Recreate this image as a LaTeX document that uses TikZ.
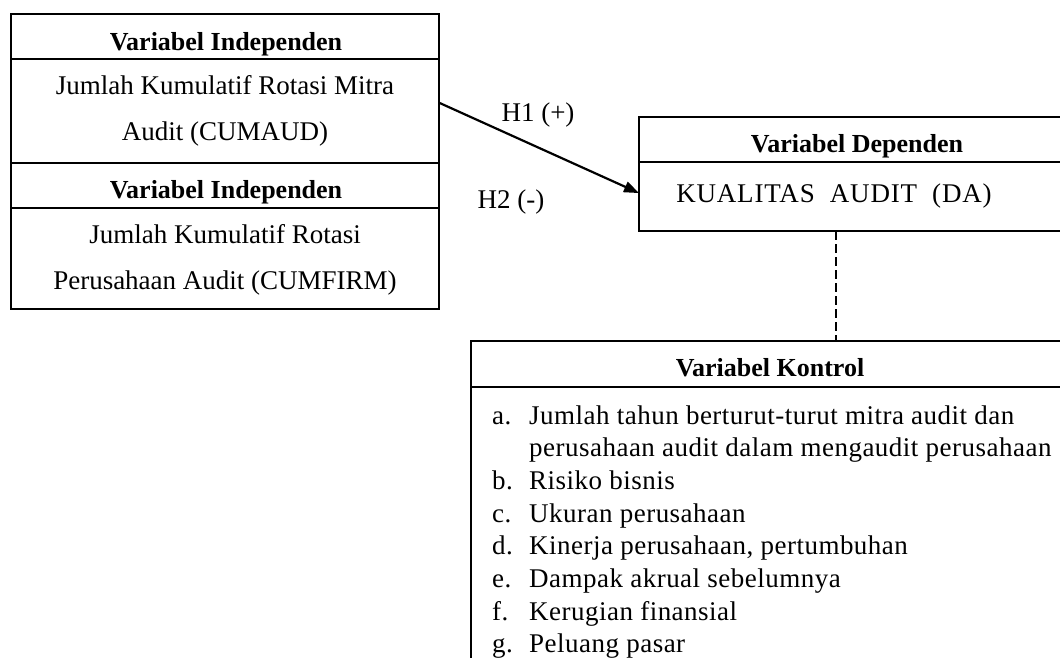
\documentclass[tikz,border=0pt]{standalone}
\usepackage{fontspec}
\setmainfont{Liberation Serif}
\newfontfamily\wideserif[LetterSpace=1.8]{Liberation Serif}
\newfontfamily\widerserif[LetterSpace=3.0]{Liberation Serif}
\usetikzlibrary{arrows.meta,calc}
\begin{document}
\begin{tikzpicture}[x=1pt,y=-1pt,
  box/.style={draw,line width=2pt,rectangle,anchor=north west,inner sep=0pt,outer sep=0pt},
  ttl/.style={anchor=base,inner sep=0pt,font=\fontsize{26}{30}\selectfont\bfseries},
  txt/.style={anchor=base,inner sep=0pt,font=\fontsize{27}{32}\selectfont},
  lbl/.style={anchor=base west,inner sep=0pt,font=\wideserif\fontsize{27}{32}\selectfont},
  arr/.style={line width=2.2pt,-{Triangle[length=15pt,width=11pt]}},
  dsh/.style={line width=2pt,dash pattern=on 9pt off 4pt}]
\useasboundingbox (0,0) rectangle (1060,657);
\clip (0,0) rectangle (1060,657);
% left boxes
\node[box,minimum width=428pt,minimum height=45pt] (h1) at (11,14) {};
\node[box,minimum width=428pt,minimum height=104pt] (b1) at (11,59) {};
\node[box,minimum width=428pt,minimum height=45pt] (h2) at (11,163) {};
\node[box,minimum width=428pt,minimum height=101pt] (b2) at (11,208) {};
\node[ttl] (t1) at (226,50) {Variabel Independen};
\node[txt] (t1a) at (225,94) {Jumlah Kumulatif Rotasi Mitra};
\node[txt] (t1b) at (225,140) {Audit (CUMAUD)};
\node[ttl] (t2) at (226,198) {Variabel Independen};
\node[txt] (t2a) at (225,243) {Jumlah Kumulatif Rotasi};
\node[txt] (t2b) at (225,289) {Perusahaan Audit (CUMFIRM)};
% dependent box
\node[box,minimum width=436pt,minimum height=45pt] (dh) at (639,117) {};
\node[box,minimum width=436pt,minimum height=69pt] (db) at (639,162) {};
\node[ttl] (td) at (857,152) {Variabel Dependen};
\node[txt,font=\widerserif\fontsize{27}{32}\selectfont] (tda) at (834,202) {KUALITAS\ \ AUDIT\ \ (DA)};
% control box
\node[box,minimum width=598pt,minimum height=46pt] (kh) at (471,341) {};
\node[box,minimum width=598pt,minimum height=320pt] (kb) at (471,387) {};
\node[ttl] (tk) at (770,376) {Variabel Kontrol};
\node[lbl] (la) at (492,424) {a.};
\node[lbl] (ia) at (529,424) {Jumlah tahun berturut-turut mitra audit dan};
\node[lbl] (ia2) at (529,456.7) {perusahaan audit dalam mengaudit perusahaan};
\node[lbl] (lb) at (492,489.4) {b.};
\node[lbl] (ib) at (529,489.4) {Risiko bisnis};
\node[lbl] (lc) at (492,522.1) {c.};
\node[lbl] (ic) at (529,522.1) {Ukuran perusahaan};
\node[lbl] (ld) at (492,554.8) {d.};
\node[lbl] (id) at (529,554.8) {Kinerja perusahaan, pertumbuhan};
\node[lbl] (le) at (492,587.5) {e.};
\node[lbl] (ie) at (529,587.5) {Dampak akrual sebelumnya};
\node[lbl] (lf) at (492,620.2) {f.};
\node[lbl] (if) at (529,620.2) {Kerugian finansial};
\node[lbl] (lg) at (492,652.9) {g.};
\node[lbl] (ig) at (529,652.9) {Peluang pasar};
% hypothesis labels
\node[txt] (hone) at (538,121) {H1 (+)};
\node[txt] (htwo) at (511,208) {H2 (-)};
% connectors
\draw[arr] ($(b1.north east)!0.42!(b1.south east)$) -- ($(db.north west)!0.45!(db.south west)$);
\coordinate (dtop) at ($(db.south west)+(197,0)$);
\draw[dsh] (dtop) -- (dtop |- kh.north);
\end{tikzpicture}
\end{document}
